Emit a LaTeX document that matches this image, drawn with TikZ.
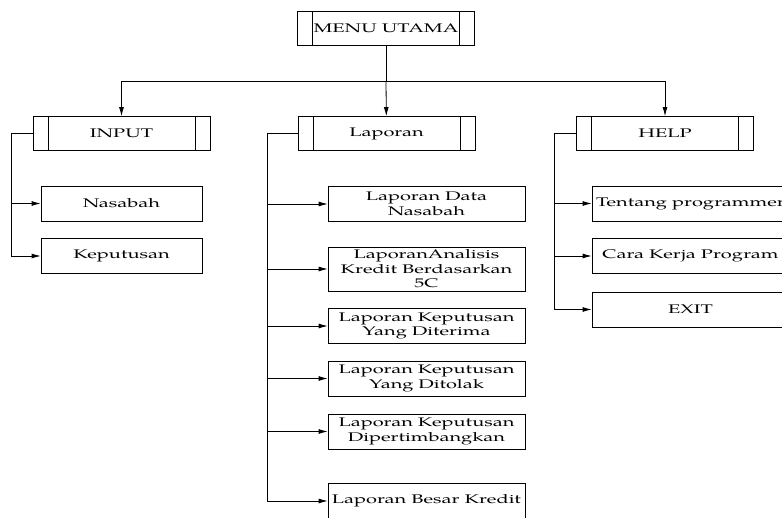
\documentclass[tikz,border=0pt]{standalone}
\usepackage{fontspec}
\setmainfont{TeX Gyre Pagella}[FakeStretch=1.6]
\usetikzlibrary{arrows.meta}
\begin{document}
\begin{tikzpicture}
[x=1pt,y=-1pt,
 every node/.style=
   {rectangle,draw=black,line width=0.8pt,align=center,
    inner sep=1pt,font=\fontsize{12.5}{14.5}\selectfont},
 menu/.style={minimum width=177pt,minimum height=34pt,
   path picture={\draw[line width=0.8pt]
     ([xshift=15pt]path picture bounding box.north west) --
     ([xshift=15pt]path picture bounding box.south west)
     ([xshift=-15pt]path picture bounding box.north east) --
     ([xshift=-15pt]path picture bounding box.south east);}},
 sub/.style={minimum width=161pt,minimum height=35pt},
 lap/.style={minimum width=197pt,minimum height=35pt},
 panah/.style={-{Latex[length=9pt,width=5pt]},line width=0.8pt}]
\useasboundingbox (0,0) rectangle (782,518);
% menu utama
\node [menu] (utama) at (386,28.5) {MENU UTAMA};
\node [menu] (input) at (121.5,133.5) {INPUT};
\node [menu] (laporan) at (386.5,133.5) {Laporan};
\node [menu] (help) at (665,133.5) {HELP};
\coordinate (cabang) at (386,81);
\draw [line width=0.8pt] (utama) -- (cabang);
\draw [panah] (cabang) -| (input);
\draw [panah] (cabang) -- (laporan);
\draw [panah] (cabang) -| (help);
% input
\node [sub] (nasabah) at (121.5,203.5) {Nasabah};
\node [sub] (keputusan) at (121.5,256) {Keputusan};
\draw [panah] (input.west) -- ++(-21,0) |- (keputusan);
\draw [panah] ([xshift=-21pt]input.west) |- (nasabah);
% laporan
\node [lap] (lapdata) at (426.5,204) {Laporan Data\\Nasabah};
\node [lap,minimum height=44pt] (lap5c) at (426.5,269)
  {LaporanAnalisis\\Kredit Berdasarkan\\5C};
\node [lap] (lapterima) at (426.5,326) {Laporan Keputusan\\Yang Diterima};
\node [lap] (laptolak) at (426.5,378.5) {Laporan Keputusan\\Yang Ditolak};
\node [lap] (laptimbang) at (426.5,431.5)
  {Laporan Keputusan\\Dipertimbangkan};
\node [lap] (lapkredit) at (426.5,501) {Laporan Besar Kredit};
\draw [panah] (laporan.west) -- ++(-30,0) |- (lapkredit);
\foreach \n in {lapdata,lap5c,lapterima,laptolak,laptimbang}
  \draw [panah] ([xshift=-30pt]laporan.west) |- (\n);
% help
\node [lap] (tentang) at (690.5,203.5) {Tentang programmer};
\node [lap] (carakerja) at (690.5,256) {Cara Kerja Program};
\node [lap] (exit) at (690.5,309.5) {EXIT};
\draw [panah] (help.west) -- ++(-22,0) |- (exit);
\foreach \n in {tentang,carakerja}
  \draw [panah] ([xshift=-22pt]help.west) |- (\n);
\end{tikzpicture}
\end{document}
